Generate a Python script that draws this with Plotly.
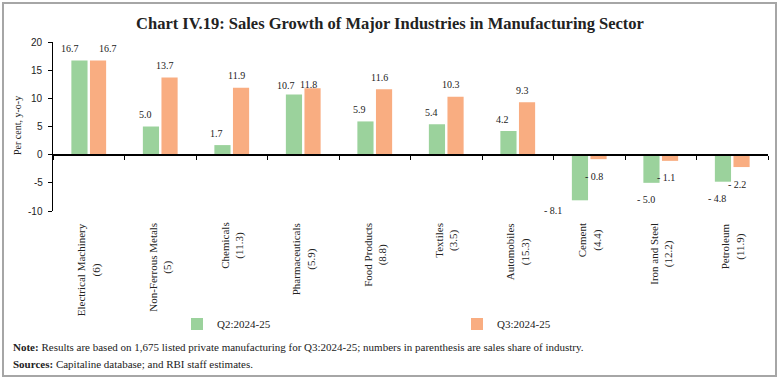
import plotly.graph_objects as go

# ---------------- data ----------------
industries = ["Electrical Machinery", "Non-Ferrous Metals", "Chemicals", "Pharmaceuticals",
              "Food Products", "Textiles", "Automobiles", "Cement", "Iron and Steel", "Petroleum"]
sales_share = ["6", "5", "11.3", "5.9", "8.8", "3.5", "15.3", "4.4", "12.2", "11.9"]
q2_2024_25 = [16.7, 5.0, 1.7, 10.7, 5.9, 5.4, 4.2, -8.1, -5.0, -4.8]
q3_2024_25 = [16.7, 13.7, 11.9, 11.8, 11.6, 10.3, 9.3, -0.8, -1.1, -2.2]
series_names = ["Q2:2024-25", "Q3:2024-25"]
y_ticks = [-10, -5, 0, 5, 10, 15, 20]

# ---------------- layout helpers ----------------
W, H = 779, 379
L, R, T, B = 53, 11, 42, 168
PW, PH = W - L - R, H - T - B


def px(x):
    return (x - L) / PW


def py(y):
    return 1 - (y - T) / PH


GREEN = "#9BD29C"
ORANGE = "#F9AD81"
SERIF = "Liberation Serif"

fig = go.Figure()
fig.add_trace(go.Bar(x=industries, y=q2_2024_25, name=series_names[0],
                     marker=dict(color=GREEN, line=dict(width=0)), legend="legend"))
fig.add_trace(go.Bar(x=industries, y=q3_2024_25, name=series_names[1],
                     marker=dict(color=ORANGE, line=dict(width=0)), legend="legend2"))


def fmt(v):
    return f"{v:.1f}" if v >= 0 else f"- {abs(v):.1f}"


# label offsets (pixels): default per series, plus a few manual nudges as in the original
default_xshift = {0: -15, 1: 5}
nudges = {(0, 0): (-19, None), (1, 0): (19, None), (0, 3): (-17, 9), (1, 3): (None, 4),
          (0, 7): (-36, -10)}

annotations = []
for s, vals in enumerate([q2_2024_25, q3_2024_25]):
    for i, v in enumerate(vals):
        xs = default_xshift[s]
        ys = 12 if v >= 0 else -17
        if (s, i) in nudges:
            nx, ny = nudges[(s, i)]
            xs = nx if nx is not None else xs
            ys = ny if ny is not None else ys
        annotations.append(dict(x=industries[i], y=v, xref="x", yref="y", text=fmt(v),
                                showarrow=False, xshift=xs, yshift=ys, yanchor="middle",
                                font=dict(family=SERIF, size=10, color="#222")))

# category labels (rotated, two lines, centred)
for name, share in zip(industries, sales_share):
    annotations.append(dict(x=name, y=py(221), xref="x", yref="paper",
                            text=f"{name}<br>({share})", showarrow=False, textangle=-90,
                            xanchor="center", yanchor="top", align="center",
                            font=dict(family=SERIF, size=11, color="#222")))

# y-axis title
annotations.append(dict(x=px(17), y=py(126), xref="paper", yref="paper", text="Per cent, y-o-y",
                        showarrow=False, textangle=-90, xanchor="center", yanchor="middle",
                        font=dict(family=SERIF, size=10, color="#222")))

# y tick labels drawn as text at the tick values (right-aligned next to the axis)
for t in y_ticks:
    annotations.append(dict(x=px(45), y=t, xref="paper", yref="y", text=str(t),
                            showarrow=False, xanchor="right", yanchor="middle",
                            font=dict(family="Liberation Sans", size=10, color="#222")))

# notes
annotations.append(dict(x=px(11), y=py(347), xref="paper", yref="paper", xanchor="left",
                        yanchor="middle", showarrow=False, align="left",
                        text="<b>Note:</b> Results are based on 1,675 listed private manufacturing for "
                             "Q3:2024-25; numbers in parenthesis are sales share of industry.",
                        font=dict(family=SERIF, size=11, color="#222")))
annotations.append(dict(x=px(11), y=py(364), xref="paper", yref="paper", xanchor="left",
                        yanchor="middle", showarrow=False, align="left",
                        text="<b>Sources:</b> Capitaline database; and RBI staff estimates.",
                        font=dict(family=SERIF, size=11, color="#222")))

fig.update_layout(
    width=W, height=H,
    margin=dict(l=L, r=R, t=T, b=B, autoexpand=False),
    paper_bgcolor="white", plot_bgcolor="white",
    showlegend=True,
    barmode="group", bargap=0.48, bargroupgap=0.13,
    title=dict(text="<b>Chart IV.19: Sales Growth of Major Industries in Manufacturing Sector</b>",
               x=390 / W, y=1 - 23 / H, xref="container", yref="container",
               xanchor="center", yanchor="middle",
               font=dict(family=SERIF, size=16.5, color="#222")),
    xaxis=dict(type="category", range=[-0.5, len(industries) - 0.5], showticklabels=False,
               ticks="outside", tickson="boundaries", ticklen=4, tickcolor="black",
               showline=True, linecolor="black", linewidth=2, showgrid=False,
               anchor="free", position=(0 - y_ticks[0]) / (y_ticks[-1] - y_ticks[0])),
    yaxis=dict(range=[y_ticks[0], y_ticks[-1]], tickvals=y_ticks, ticks="outside", ticklen=4,
               tickcolor="black", showline=True, linecolor="black", linewidth=1,
               showgrid=False, zeroline=False, showticklabels=False),
    legend=dict(x=px(177), y=py(324), xanchor="left", yanchor="middle", orientation="h",
                bgcolor="rgba(0,0,0,0)", font=dict(family=SERIF, size=11, color="#222"),
                itemwidth=30, visible=True),
    legend2=dict(x=px(457), y=py(324), xanchor="left", yanchor="middle", orientation="h",
                 bgcolor="rgba(0,0,0,0)", font=dict(family=SERIF, size=11, color="#222"),
                 itemwidth=30, visible=True),
    annotations=annotations,
    shapes=[dict(type="rect", xref="paper", yref="paper", x0=px(3), x1=px(776),
                 y0=py(376), y1=py(3), line=dict(color="#A6A6A6", width=2),
                 fillcolor="rgba(0,0,0,0)", layer="below")],
)

fig.write_html("out.html", config={"displayModeBar": False},
               post_script="document.body.style.margin='0';document.body.style.overflow='hidden';")
